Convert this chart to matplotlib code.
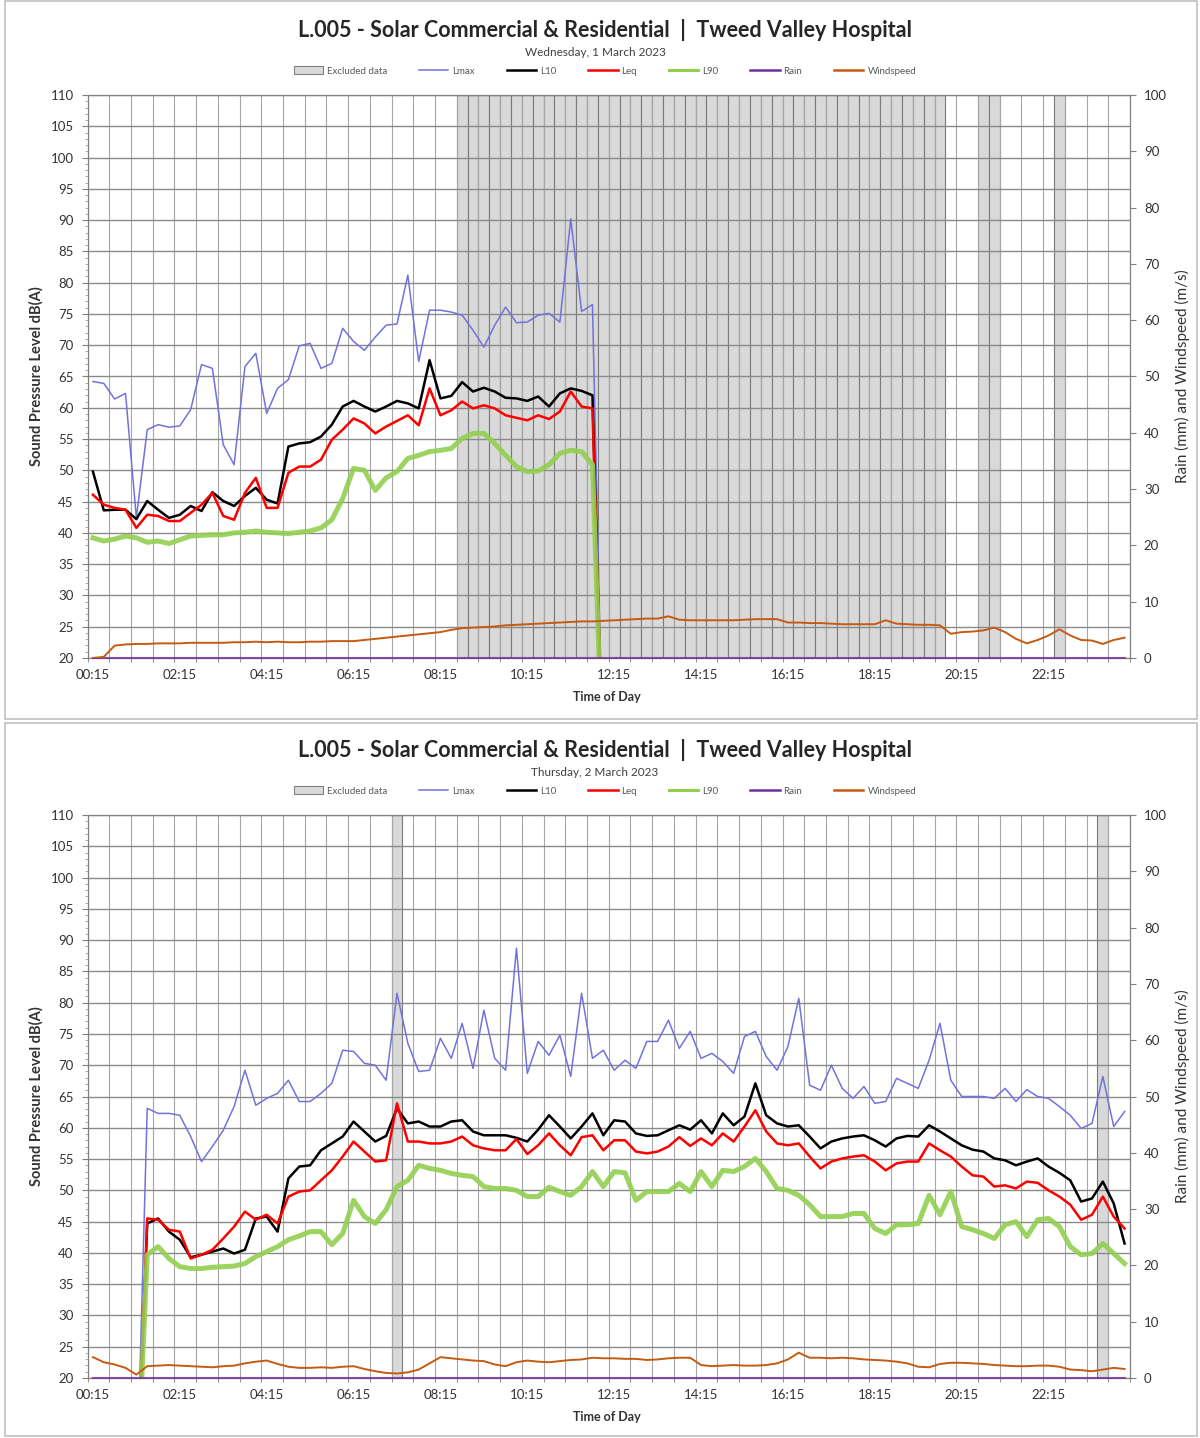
import numpy as np
import matplotlib
matplotlib.use('Agg')
import matplotlib.pyplot as plt
from matplotlib.patches import Patch, Rectangle
from matplotlib.lines import Line2D

plt.rcParams['font.family'] = ['Lato', 'DejaVu Sans']

# ---- data (15-min intervals, 00:15 .. 24:00, 96 categories) ----
tick_labels = ['00:15', '02:15', '04:15', '06:15', '08:15', '10:15',
               '12:15', '14:15', '16:15', '18:15', '20:15', '22:15']
title = 'L.005 - Solar Commercial & Residential  |  Tweed Valley Hospital'
date1 = 'Wednesday, 1 March 2023'
date2 = 'Thursday, 2 March 2023'

# day 1 (data stops at 12:00)
lmax_1 = [64.2, 63.9, 61.4, 62.3, 42.4, 56.5, 57.3, 56.9, 57.1, 59.7, 66.9, 66.3,
          54.1, 50.9, 66.6, 68.7, 59.1, 63.1, 64.5, 69.9, 70.3, 66.3, 67.1, 72.7,
          70.6, 69.2, 71.3, 73.2, 73.4, 81.2, 67.4, 75.6, 75.6, 75.3, 74.8, 72.4,
          69.7, 73.2, 76.1, 73.6, 73.7, 74.8, 75.1, 73.7, 90.2, 75.4, 76.5, 0.0]
l10_1 = [49.8, 43.6, 43.7, 43.7, 42.2, 45.1, 43.7, 42.4, 42.9, 44.3, 43.5, 46.5,
         45.1, 44.3, 45.9, 47.2, 45.3, 44.7, 53.8, 54.3, 54.5, 55.4, 57.3, 60.2,
         61.1, 60.2, 59.4, 60.2, 61.1, 60.7, 59.9, 67.6, 61.5, 61.9, 64.1, 62.6,
         63.2, 62.6, 61.6, 61.5, 61.1, 61.8, 60.2, 62.3, 63.1, 62.7, 62.0, 0.0]
leq_1 = [46.1, 44.5, 44.0, 43.7, 40.8, 42.9, 42.7, 41.9, 41.9, 43.2, 44.5, 46.4,
         42.7, 42.1, 46.4, 48.8, 44.0, 44.0, 49.6, 50.6, 50.6, 51.7, 54.9, 56.5,
         58.3, 57.5, 55.9, 57.0, 57.9, 58.8, 57.2, 63.1, 58.8, 59.6, 61.0, 59.9,
         60.4, 59.9, 58.8, 58.4, 58.0, 58.8, 58.2, 59.4, 62.6, 60.2, 59.9, 0.0]
l90_1 = [39.2, 38.7, 39.0, 39.5, 39.2, 38.5, 38.7, 38.3, 38.9, 39.5, 39.6, 39.7,
         39.7, 40.0, 40.1, 40.3, 40.1, 40.0, 39.9, 40.1, 40.3, 40.8, 42.1, 45.5,
         50.3, 50.0, 46.8, 48.8, 49.8, 51.9, 52.4, 53.0, 53.2, 53.5, 55.1, 55.9,
         55.9, 54.3, 52.4, 50.6, 49.8, 49.9, 50.9, 52.7, 53.2, 53.0, 50.9, 0.0]
wind_1 = [0.0, 0.2, 2.2, 2.4, 2.5, 2.5, 2.6, 2.6, 2.6, 2.7, 2.7, 2.7,
          2.7, 2.8, 2.8, 2.9, 2.8, 2.9, 2.8, 2.8, 2.9, 2.9, 3.0, 3.0,
          3.0, 3.2, 3.4, 3.6, 3.8, 4.0, 4.2, 4.4, 4.6, 5.0, 5.3, 5.4,
          5.5, 5.6, 5.8, 5.9, 6.0, 6.1, 6.2, 6.3, 6.4, 6.5, 6.5, 6.6,
          6.7, 6.8, 6.9, 7.0, 7.0, 7.4, 6.8, 6.7, 6.7, 6.7, 6.7, 6.7,
          6.8, 6.9, 6.9, 6.9, 6.3, 6.3, 6.2, 6.2, 6.1, 6.0, 6.0, 6.0,
          6.0, 6.7, 6.1, 6.0, 5.9, 5.9, 5.8, 4.3, 4.6, 4.7, 4.9, 5.4,
          4.6, 3.4, 2.6, 3.2, 4.0, 5.1, 4.0, 3.2, 3.1, 2.5, 3.2, 3.6]
rain_1 = [0.0] * 96
excluded_1 = [(34, 78), (82, 83), (89, 89)]

# day 2 (logger restarts at 01:30)
lmax_2 = [0.0, 0.0, 0.0, 0.0, 0.0,
          63.1, 62.3, 62.3, 62.0, 58.6, 54.6, 57.0, 59.6, 63.4, 69.2, 63.6, 64.7,
          65.5, 67.6, 64.2, 64.2, 65.5, 67.1, 72.4, 72.2, 70.3, 70.0, 67.6, 81.5,
          73.5, 69.0, 69.2, 74.3, 71.1, 76.7, 69.5, 78.8, 71.1, 69.2, 88.7,
          68.7, 73.8, 71.6, 74.8, 68.2, 81.5, 71.1, 72.4, 69.2, 70.8, 69.5, 73.8,
          73.8, 77.2, 72.7, 75.4, 71.1, 71.9, 70.6, 68.7, 74.6, 75.4, 71.4, 69.2,
          73.0, 80.7, 66.8, 66.0, 70.0, 66.3, 64.7, 66.6, 63.9, 64.2, 67.9, 67.1,
          66.3, 70.8, 76.7, 67.6, 65.0, 65.0, 65.0, 64.7, 66.3, 64.2, 66.1, 65.0,
          64.7, 63.4, 62.0, 59.9, 60.7, 68.2, 60.2, 62.6]
l10_2 = [0.0, 0.0, 0.0, 0.0, 0.0,
         44.7, 45.5, 43.4, 42.1, 39.3, 39.7, 40.2, 40.7, 39.9, 40.5, 45.5, 45.8,
         43.4, 51.9, 53.8, 54.0, 56.4, 57.5, 58.6, 61.0, 59.4, 57.8, 58.7, 63.1,
         60.7, 61.0, 60.2, 60.2, 61.0, 61.2, 59.4, 58.8, 58.8, 58.8, 58.4,
         57.8, 59.7, 62.0, 60.2, 58.3, 60.2, 62.3, 58.8, 61.2, 61.0, 59.1, 58.7,
         58.8, 59.6, 60.4, 59.7, 61.2, 59.1, 62.3, 60.4, 61.8, 67.1, 62.0, 60.7,
         60.2, 60.4, 58.6, 56.7, 57.8, 58.3, 58.6, 58.8, 58.0, 57.0, 58.3, 58.7,
         58.6, 60.4, 59.4, 58.3, 57.2, 56.5, 56.2, 55.1, 54.8, 54.0, 54.6, 55.1,
         53.8, 52.8, 51.6, 48.2, 48.7, 51.4, 47.9, 41.5]
leq_2 = [0.0, 0.0, 0.0, 0.0, 0.0,
         45.5, 45.3, 43.7, 43.4, 39.1, 39.7, 40.5, 42.3, 44.2, 46.6, 45.3, 46.1,
         44.7, 49.0, 49.8, 50.0, 51.6, 53.2, 55.4, 57.8, 56.2, 54.6, 54.8, 63.9,
         57.8, 57.8, 57.5, 57.5, 57.8, 58.6, 57.2, 56.7, 56.4, 56.4, 58.2,
         55.8, 57.2, 59.1, 57.2, 55.6, 58.5, 58.8, 56.4, 58.0, 58.0, 56.2, 55.9,
         56.2, 57.0, 58.5, 57.1, 58.3, 57.2, 59.1, 57.8, 60.2, 62.8, 59.4, 57.5,
         57.2, 57.5, 55.4, 53.5, 54.6, 55.1, 55.4, 55.6, 54.6, 53.2, 54.3, 54.6,
         54.6, 57.5, 56.4, 55.4, 53.8, 52.4, 52.2, 50.6, 50.8, 50.3, 51.4, 51.2,
         50.0, 49.0, 47.7, 45.3, 46.1, 49.0, 45.8, 43.9]
l90_2 = [0.0, 0.0, 0.0, 0.0, 0.0,
         39.7, 41.0, 39.1, 37.8, 37.5, 37.5, 37.7, 37.8, 37.9, 38.3, 39.4, 40.2,
         41.0, 42.1, 42.7, 43.4, 43.4, 41.3, 43.1, 48.4, 45.8, 44.7, 46.9, 50.6,
         51.6, 54.0, 53.5, 53.2, 52.7, 52.4, 52.2, 50.6, 50.3, 50.3, 50.0,
         49.0, 49.0, 50.5, 49.8, 49.2, 50.6, 53.0, 50.6, 53.0, 52.8, 48.4, 49.8,
         49.8, 49.8, 51.1, 49.8, 53.0, 50.6, 53.2, 53.0, 53.8, 55.1, 53.0, 50.3,
         50.0, 49.2, 47.7, 45.8, 45.8, 45.8, 46.3, 46.3, 43.9, 43.1, 44.5, 44.5,
         44.7, 49.2, 46.1, 49.8, 44.2, 43.7, 43.1, 42.3, 44.5, 45.0, 42.6, 45.3,
         45.5, 44.2, 41.0, 39.7, 39.9, 41.5, 39.9, 38.3]
wind_2 = [3.7, 2.8, 2.4, 1.8, 0.6, 2.1, 2.2, 2.3, 2.2, 2.1, 2.0, 1.9,
          2.1, 2.2, 2.6, 2.9, 3.1, 2.5, 2.0, 1.8, 1.8, 1.9, 1.8, 2.0,
          2.1, 1.6, 1.2, 0.9, 0.8, 1.0, 1.5, 2.6, 3.7, 3.5, 3.3, 3.1,
          3.0, 2.4, 2.1, 2.8, 3.1, 2.9, 2.8, 3.0, 3.2, 3.3, 3.6, 3.5,
          3.5, 3.4, 3.4, 3.2, 3.3, 3.5, 3.6, 3.6, 2.3, 2.1, 2.2, 2.3,
          2.2, 2.2, 2.3, 2.6, 3.3, 4.5, 3.6, 3.6, 3.5, 3.6, 3.5, 3.3,
          3.2, 3.1, 2.9, 2.6, 2.0, 1.9, 2.5, 2.7, 2.7, 2.6, 2.5, 2.3,
          2.2, 2.1, 2.1, 2.2, 2.2, 2.0, 1.5, 1.4, 1.2, 1.5, 1.8, 1.6]
rain_2 = [0.0] * 96
excluded_2 = [(28, 28), (93, 93)]

# ---- style ----
C_EXCL = '#d9d9d9'
C_LMAX = '#7272dc'
C_L10 = '#000000'
C_LEQ = '#ff0000'
C_L90 = '#92d050'
C_RAIN = '#7030a0'
C_WIND = '#c55a11'

W, H = 1200, 1438
fig = plt.figure(figsize=(W / 100, H / 100), dpi=100)


def fy(px):
    return 1 - px / H


def draw_panel(top_px, date_txt, lmax, l10, leq, l90, rain, wind, excluded):
    ax_l, ax_r, ax_t, ax_b = 87.5, 1130, top_px, top_px + 563
    ax = fig.add_axes([ax_l / W, fy(ax_b), (ax_r - ax_l) / W, (ax_b - ax_t) / H])
    idx = np.arange(96)

    def full(vals):
        arr = np.full(96, np.nan)
        arr[:len(vals)] = vals
        return arr

    # excluded periods as full-height grey columns
    for start, end in excluded:
        cols = np.arange(start, end + 1)
        ax.bar(cols, 90, bottom=20, width=1.0, color=C_EXCL, edgecolor='#7a7a7a',
               linewidth=0.8, zorder=0.5)

    ax.plot(idx, full(lmax), color=C_LMAX, lw=1.1, zorder=3)
    ax.plot(idx, full(l10), color=C_L10, lw=1.8, zorder=4)
    ax.plot(idx, full(leq), color=C_LEQ, lw=1.8, zorder=5)
    ax.plot(idx, full(l90), color=C_L90, lw=3.6, alpha=0.9, zorder=6)

    ax.set_xlim(-0.5, 95.5)
    ax.set_ylim(20, 110)
    ax.set_yticks(np.arange(20, 111, 5))
    ax.set_yticks(np.arange(20, 111, 1), minor=True)
    ax.set_xticks(np.arange(0, 96, 8))
    ax.set_xticklabels(tick_labels)
    ax.set_xticks(np.arange(-0.5, 96, 2), minor=True)
    ax.grid(axis='y', which='major', color='#8a8a8a', lw=1.0)
    ax.grid(axis='x', which='minor', color='#a6a6a6', lw=0.8)
    ax.tick_params(axis='x', which='major', length=0, pad=8, labelsize=9.5,
                   labelcolor='#333333')
    ax.tick_params(axis='x', which='minor', length=3, color='#808080')
    ax.tick_params(axis='y', which='major', length=4, pad=6, labelsize=9.5,
                   labelcolor='#333333', color='#808080')
    ax.tick_params(axis='y', which='minor', length=2, color='#a0a0a0')
    for s in ax.spines.values():
        s.set_color('#808080')

    ax2 = ax.twinx()
    ax2.plot(idx, rain, color=C_RAIN, lw=1.5, zorder=3, clip_on=False, alpha=0.8)
    ax2.plot(idx, wind, color=C_WIND, lw=1.4, zorder=4)
    ax2.set_ylim(0, 100)
    ax2.set_yticks(np.arange(0, 101, 10))
    ax2.tick_params(axis='y', length=4, pad=6, labelsize=9.5, labelcolor='#333333',
                    color='#808080')
    for s in ax2.spines.values():
        s.set_color('#808080')

    mid = (ax_t + ax_b) / 2
    fig.text(36 / W, fy(mid), 'Sound Pressure Level dB(A)', rotation=90,
             ha='center', va='center', fontsize=10.5, fontweight='bold', color='#333333')
    fig.text(1182 / W, fy(mid), 'Rain (mm) and Windspeed (m/s)', rotation=90,
             ha='center', va='center', fontsize=11, color='#333333')
    fig.text(607 / W, fy(ax_b + 39), 'Time of Day', ha='center', va='center',
             fontsize=9, fontweight='bold', color='#333333')

    fig.text(605 / W, fy(ax_t - 65), title, ha='center', va='center',
             fontsize=15.5, fontweight='bold', color='#262626')
    fig.text(595 / W, fy(ax_t - 43), date_txt, ha='center', va='center',
             fontsize=8.5, color='#404040')

    handles = [Patch(facecolor=C_EXCL, edgecolor='#808080', lw=0.8),
               Line2D([], [], color=C_LMAX, lw=1.1),
               Line2D([], [], color=C_L10, lw=1.8),
               Line2D([], [], color=C_LEQ, lw=1.8),
               Line2D([], [], color=C_L90, lw=2.2),
               Line2D([], [], color=C_RAIN, lw=1.8),
               Line2D([], [], color=C_WIND, lw=1.8)]
    labels = ['Excluded data', 'Lmax', 'L10', 'Leq', 'L90', 'Rain', 'Windspeed']
    fig.legend(handles, labels, loc='center', bbox_to_anchor=(605 / W, fy(ax_t - 24)),
               ncol=7, frameon=False, fontsize=7, handlelength=3.0, handleheight=0.8,
               columnspacing=3.3, handletextpad=0.4, labelcolor='#595959')


draw_panel(95, date1, lmax_1, l10_1, leq_1, l90_1, rain_1, wind_1, excluded_1)
draw_panel(815, date2, lmax_2, l10_2, leq_2, l90_2, rain_2, wind_2, excluded_2)

# panel frames
for y0, y1 in [(1, 719), (723, 1436)]:
    fig.add_artist(Rectangle((5 / W, fy(y1)), 1192 / W, (y1 - y0) / H,
                             transform=fig.transFigure, fill=False,
                             edgecolor='#c0c0c0', lw=1.2))

fig.savefig('out.png', dpi=100, facecolor='white')
